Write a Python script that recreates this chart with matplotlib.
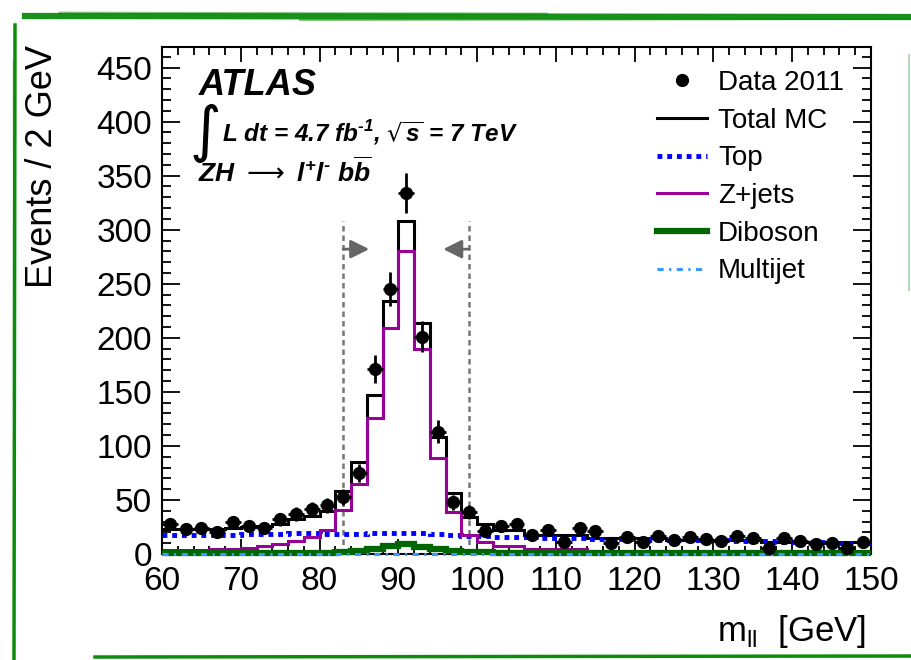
import numpy as np
import matplotlib
matplotlib.use("Agg")
import matplotlib.pyplot as plt
from matplotlib.lines import Line2D
from matplotlib.ticker import MultipleLocator

plt.rcParams['font.family'] = ['Liberation Sans', 'DejaVu Sans']
plt.rcParams['mathtext.fontset'] = 'dejavusans'

# ---- data (2 GeV bins from 60 to 150 GeV) ----
bin_edges = np.arange(60, 152, 2)
data_2011 = [28, 23, 24, 20, 30, 26, 24, 32, 37, 42, 45,
             53, 75, 171, 245, 334, 201, 113, 48, 39,
             21, 26, 28, 18, 22, 11, 24, 21, 10, 16, 11, 17, 13, 16, 14, 12,
             17, 15, 6, 15, 12, 9, 10, 6, 11]
total_mc = [23, 23, 23, 23.5, 24, 25, 25.5, 28, 32, 35.5, 39.5,
            58.5, 85, 147, 234, 308, 214, 108, 56, 34,
            28, 22, 22, 17.5, 17.5, 17.5, 17.5, 15, 15, 15, 15, 15,
            13, 13, 13, 13, 13, 13, 11.5, 11.5, 11.5, 11.5, 11.5, 11.5, 11.5]
top = [17.5, 17.5, 17.5, 18, 18, 18.5, 18.5, 18.5, 19, 19, 18.5,
       18.5, 18.5, 19, 19, 19, 19, 18.5, 18, 17,
       16.5, 16, 16, 15.5, 15, 15, 14.5, 14, 14, 13.5, 13.5, 13, 13, 13,
       12.5, 12.5, 12, 12, 12, 11.5, 11.5, 11, 11, 10.5, 10.5]
zjets = [3.5, 3.5, 3.5, 4.5, 5, 5.5, 7, 9, 12, 16, 22,
         41, 65, 126, 209, 280, 190, 89, 39, 17.5,
         11.5, 7, 7, 4.5, 4.5, 4.5, 4.5, 2, 2, 2, 1.8, 1.8, 1.6, 1.6,
         1.5, 1.5, 1.4, 1.4, 1.3, 1.3, 1.2, 1.2, 1.1, 1.1, 1.0]
diboson = [0.7, 0.7, 0.7, 0.8, 0.8, 0.8, 0.9, 0.9, 1.0, 1.1, 1.3,
           2.0, 3.0, 4.5, 7.7, 9.2, 6.8, 4.3, 2.7, 1.8,
           1.5, 1.3, 1.2, 1.1, 1.0, 1.0, 0.9, 0.9, 0.8, 0.8, 0.8, 0.7, 0.7,
           0.7, 0.6, 0.6, 0.6, 0.6, 0.5, 0.5, 0.5, 0.5, 0.5, 0.5, 0.5]
multijet = [0.4, 0.4, 0.4, 0.4, 0.4, 0.4, 0.4, 0.4, 0.4, 0.4, 0.4,
            0.4, 0.4, 0.4, 0.4, 0.4, 0.4, 0.4, 0.4, 0.4,
            0.3, 0.3, 0.3, 0.3, 0.3, 0.3, 0.3, 0.3, 0.3, 0.3, 0.3, 0.3, 0.3,
            0.3, 0.3, 0.3, 0.3, 0.3, 0.3, 0.3, 0.3, 0.3, 0.3, 0.3, 0.3]
window = [83, 99]

legend_labels = ["Data 2011", "Total MC", "Top", "Z+jets", "Diboson", "Multijet"]

c_top = '#0000ff'
c_z = '#990099'
c_db = '#006600'
c_mj = '#3399ff'

fig = plt.figure(figsize=(9.11, 6.60), dpi=100)
W, H = 911, 660
ax = fig.add_axes([162 / W, 1 - 554 / H, (871 - 162) / W, (554 - 47) / H])

centers = 0.5 * (bin_edges[:-1] + bin_edges[1:])
ax.stairs(total_mc, bin_edges, baseline=None, color='black', lw=2.2, zorder=3)
ax.stairs(top, bin_edges, baseline=None, color=c_top, lw=3.5,
          linestyle=(0, (1.0, 1.0)), zorder=4)
ax.stairs(zjets, bin_edges, baseline=None, color=c_z, lw=2.2, zorder=4)
ax.stairs(diboson, bin_edges, baseline=None, color=c_db, lw=4.5, zorder=5, clip_on=False)
ax.stairs(multijet, bin_edges, baseline=None, color=c_mj, lw=2.2,
          linestyle=(0, (2, 1.8, 0.7, 1.8)), zorder=6, clip_on=False)

d = np.array(data_2011, dtype=float)
ax.errorbar(centers, d, yerr=np.sqrt(d), xerr=1.0, fmt='o', color='black',
            ms=8.5, elinewidth=2, capsize=0, zorder=8)

# mass window
ax.vlines(window, 0, 308, colors='#777777', linestyles=(0, (2.2, 1.6)), lw=1.8, zorder=2)
ax.annotate('', xy=(window[0] + 3.3, 282), xytext=(window[0], 282),
            arrowprops=dict(arrowstyle='-|>', color='#666666', lw=2, mutation_scale=28,
                            shrinkA=0, shrinkB=0))
ax.annotate('', xy=(window[1] - 3.3, 282), xytext=(window[1], 282),
            arrowprops=dict(arrowstyle='-|>', color='#666666', lw=2, mutation_scale=28,
                            shrinkA=0, shrinkB=0))

ax.set_xlim(60, 150)
ax.set_ylim(0, 469)
ax.xaxis.set_major_locator(MultipleLocator(10))
ax.xaxis.set_minor_locator(MultipleLocator(2))
ax.yaxis.set_major_locator(MultipleLocator(50))
ax.yaxis.set_minor_locator(MultipleLocator(10))
ax.tick_params(which='both', direction='in', top=True, right=True, width=1.3,
               labelsize=24, colors='black')
ax.tick_params(axis='x', which='major', length=11, pad=9)
ax.tick_params(axis='x', which='minor', length=5.5)
ax.tick_params(axis='y', which='major', length=13, pad=7)
ax.tick_params(axis='y', which='minor', length=6.5)
for s in ax.spines.values():
    s.set_linewidth(1.5)

# labels
fig.text(43 / W, 1 - 45 / H, 'Events / 2 GeV', rotation=90, ha='center', va='top', fontsize=26)
fig.text(866 / W, 1 - 632 / H, r'm$_{\mathregular{ll}}$  [GeV]', ha='right', va='center', fontsize=25)

# annotations
tr = ax.transAxes
def axfrac(px, py):
    return ((px - 162) / 709, 1 - (py - 47) / 507)

ax.text(*axfrac(199, 95), 'ATLAS', transform=tr, fontsize=26, fontweight='bold',
        style='italic', ha='left', va='baseline')
ax.text(*axfrac(189, 150), r'$\int$', transform=tr, fontsize=31, ha='left', va='baseline',
        fontweight='bold')
ax.text(*axfrac(222, 141), 'L dt = 4.7 fb$^{\\mathregular{\u20101}}$, $\\sqrt{\\mathregular{s}}$ = 7 TeV',
        transform=tr, fontsize=17.5, fontweight='bold', style='italic', ha='left', va='baseline')
ax.text(*axfrac(198, 182),
        r'ZH $\longrightarrow$ l$^{\mathregular{+}}$l$^{\mathregular{\u2010}}$ b$\mathregular{\overline{b}}$'.replace('\\u2010', '\u2010'),
        transform=tr, fontsize=19, fontweight='bold', style='italic', ha='left', va='baseline')

# legend
handles = [
    Line2D([], [], marker='o', color='black', ls='none', ms=8.5),
    Line2D([], [], color='black', lw=2.2),
    Line2D([], [], color=c_top, lw=3.5, ls=(0, (1.0, 1.0))),
    Line2D([], [], color=c_z, lw=2.2),
    Line2D([], [], color=c_db, lw=4.5),
    Line2D([], [], color=c_mj, lw=2.2, ls=(0, (2, 1.8, 0.7, 1.8))),
]
ax.legend(handles, legend_labels, loc='upper left', bbox_to_anchor=axfrac(657, 70),
          frameon=False, fontsize=20, handlelength=1.8, handletextpad=0.4,
          labelspacing=0.42, borderpad=0, borderaxespad=0)

# hand-drawn green frame
g = '#0b8c0b'
fig.add_artist(Line2D([25 / W, 1.0], [1 - 16 / H, 1 - 17 / H], color=g, lw=4.5, alpha=0.95))
fig.add_artist(Line2D([60 / W, 0.6], [1 - 13 / H, 1 - 14 / H], color=g, lw=2, alpha=0.5))
fig.add_artist(Line2D([300 / W, 1.0], [1 - 20 / H, 1 - 19 / H], color=g, lw=1.5, alpha=0.5))
fig.add_artist(Line2D([15 / W, 14 / W], [1 - 25 / H, 0.0], color=g, lw=2.5))
fig.add_artist(Line2D([13 / W, 13 / W], [1 - 60 / H, 1 - 400 / H], color=g, lw=1, alpha=0.5))
fig.add_artist(Line2D([95 / W, 1.0], [1 - 657 / H, 1 - 656 / H], color=g, lw=2.5))
fig.add_artist(Line2D([909 / W, 909 / W], [1 - 55 / H, 1 - 290 / H], color=g, lw=1.5, alpha=0.3))

fig.savefig('out.png', dpi=100)
